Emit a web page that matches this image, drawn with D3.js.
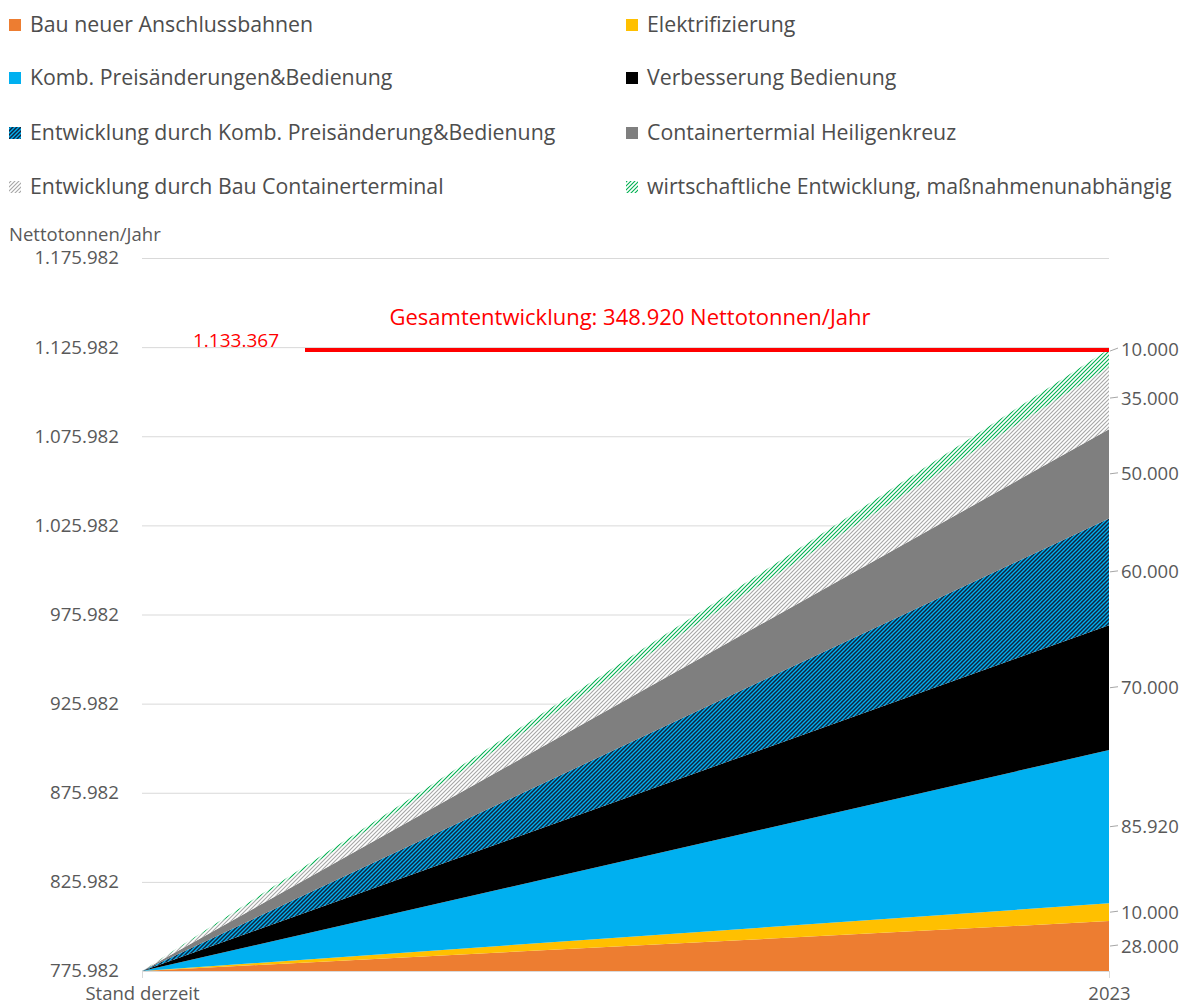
<!DOCTYPE html>
<html>
<head>
<meta charset="utf-8">
<script src="https://cdn.jsdelivr.net/npm/d3@7"></script>
<style>
  html, body { margin: 0; padding: 0; background: #fff; }
  svg { display: block; font-family: "Open Sans", "Noto Sans", sans-serif; }
</style>
</head>
<body>
<svg id="chart" width="1186" height="1006"></svg>
<script>
// Categories on the x axis
const categories = ["Stand derzeit", "2023"];

// Stacked contributions (Nettotonnen/Jahr), bottom to top
const seriesNames = [
  "Bau neuer Anschlussbahnen",
  "Elektrifizierung",
  "Komb. Preisänderungen&Bedienung",
  "Verbesserung Bedienung",
  "Entwicklung durch Komb. Preisänderung&Bedienung",
  "Containertermial Heiligenkreuz",
  "Entwicklung durch Bau Containerterminal",
  "wirtschaftliche Entwicklung, maßnahmenunabhängig"
];
const valuesStart = [0, 0, 0, 0, 0, 0, 0, 0];
const values2023 = [28000, 10000, 85920, 70000, 60000, 50000, 35000, 10000];

// Current level the growth is stacked on
const baseValue = 775982;

// Value axis ticks
const yTicks = [775982, 825982, 875982, 925982, 975982, 1025982, 1075982, 1125982, 1175982];

const yAxisTitle = "Nettotonnen/Jahr";
const totalTitle = "Gesamtentwicklung: 348.920 Nettotonnen/Jahr";
const totalNote = "1.133.367";

// Fills: plain colours or pattern ids
const fills = ["#ED7D31", "#FFC000", "#00B0F0", "#000000",
               "url(#hatchBlue)", "#7F7F7F", "url(#hatchGray)", "url(#hatchGreen)"];

const de = d3.formatLocale({decimal: ",", thousands: ".", grouping: [3], currency: ["", " €"]});
const fmt = de.format(",d");

const svg = d3.select("#chart");
const textColor = "#595959";

// Hatch patterns (upward diagonal)
const defs = svg.append("defs");
function hatch(id, bg, fg, sw) {
  const p = defs.append("pattern").attr("id", id)
    .attr("patternUnits", "userSpaceOnUse").attr("width", 4).attr("height", 4);
  p.append("rect").attr("width", 4).attr("height", 4).attr("fill", bg);
  p.append("path").attr("d", "M-1,1 l2,-2 M0,4 l4,-4 M3,5 l2,-2")
    .attr("stroke", fg).attr("stroke-width", sw).attr("fill", "none");
}
hatch("hatchBlue", "#00B0F0", "#10243F", 1.5);
hatch("hatchGray", "#FFFFFF", "#A6A6A6", 1.1);
hatch("hatchGreen", "#FFFFFF", "#00B050", 1.1);

// Scales
const x = d3.scalePoint().domain(categories).range([142, 1109]);
const y = d3.scaleLinear().domain([775982, 1175982]).range([971, 258]);

// Gridlines
svg.append("g").selectAll("line").data(yTicks).join("line")
  .attr("x1", 142).attr("x2", 1109)
  .attr("y1", d => y(d) + 0.5).attr("y2", d => y(d) + 0.5)
  .attr("stroke", "#D9D9D9").attr("stroke-width", 1);

// Value axis labels
const yAxis = d3.axisLeft(y).tickValues(yTicks).tickFormat(fmt).tickSize(0).tickPadding(0);
const gy = svg.append("g").attr("transform", "translate(119,0)").call(yAxis);
gy.select(".domain").remove();
gy.selectAll("text").attr("fill", textColor).attr("font-size", 18.7)
  .attr("font-family", "'Open Sans', sans-serif");

svg.append("text").attr("x", 9).attr("y", 241).text(yAxisTitle)
  .attr("fill", textColor).attr("font-size", 18.5);

// Stacked data
const rows = categories.map((c, ci) => {
  const r = {cat: c};
  seriesNames.forEach((s, si) => { r[s] = (ci === 0 ? valuesStart : values2023)[si]; });
  return r;
});
const stacked = d3.stack().keys(seriesNames)(rows);

const area = d3.area()
  .x(d => x(d.data.cat))
  .y0(d => y(baseValue + d[0]))
  .y1(d => y(baseValue + d[1]));

svg.append("g").selectAll("path").data(stacked).join("path")
  .attr("d", area)
  .attr("fill", (d, i) => fills[i]);

// Category axis
const xAxis = d3.axisBottom(x).tickSize(7).tickPadding(9);
const gx = svg.append("g").attr("transform", "translate(0,971)").call(xAxis);
gx.select(".domain").remove();
gx.selectAll(".tick line").attr("stroke", "#D9D9D9");
gx.selectAll("text").attr("fill", textColor).attr("font-size", 18.5)
  .attr("font-family", "'Open Sans', sans-serif");

// Total line
const total = d3.sum(values2023);
svg.append("line")
  .attr("x1", 305).attr("x2", x("2023"))
  .attr("y1", y(baseValue + total) + 1).attr("y2", y(baseValue + total) + 1)
  .attr("stroke", "#FF0000").attr("stroke-width", 4);

svg.append("text").attr("x", 630).attr("y", 325).attr("text-anchor", "middle")
  .text(totalTitle).attr("fill", "#FF0000").attr("font-size", 22);
svg.append("text").attr("x", 236).attr("y", 347).attr("text-anchor", "middle")
  .text(totalNote).attr("fill", "#FF0000").attr("font-size", 19);

// Value labels at the right end of each band
const last = stacked.length - 1;
const endLabels = svg.append("g");
stacked.forEach((s, i) => {
  const d = s[1];
  const yMid = i === last ? y(baseValue + d[1]) : y(baseValue + (d[0] + d[1]) / 2);
  endLabels.append("line")
    .attr("x1", x("2023") + 1).attr("x2", x("2023") + 9)
    .attr("y1", yMid + (i === last ? 2 : 0)).attr("y2", yMid - 1)
    .attr("stroke", "#A6A6A6").attr("stroke-width", 1);
  endLabels.append("text")
    .attr("x", 1121).attr("y", yMid).attr("dy", "0.35em")
    .text(fmt(values2023[i])).attr("fill", textColor).attr("font-size", 18.5);
});

// Legend: two columns, four rows
const legend = svg.append("g");
seriesNames.forEach((name, i) => {
  const col = i % 2, row = Math.floor(i / 2);
  const lx = col === 0 ? 9 : 626;
  const ly = [25, 78, 133, 187][row];
  legend.append("rect").attr("x", lx).attr("y", ly - 6).attr("width", 12).attr("height", 12)
    .attr("fill", fills[i]);
  legend.append("text").attr("x", lx + 21).attr("y", ly).attr("dy", "0.35em")
    .text(name).attr("fill", "#4D4D4D").attr("font-size", 21.3);
});
</script>
</body>
</html>
